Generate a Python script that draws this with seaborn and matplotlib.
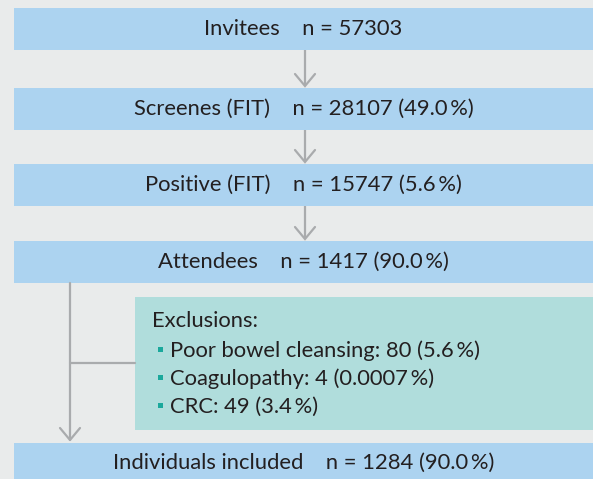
import matplotlib
matplotlib.use("Agg")
import matplotlib.pyplot as plt
import seaborn as sns
from matplotlib.patches import Rectangle

sns.set_theme(style="white")
plt.rcParams['font.family'] = ['Lato', 'DejaVu Sans']

# ---- data ----
stage_labels = ["Invitees", "Screenes (FIT)", "Positive (FIT)", "Attendees", "Individuals included"]
stage_counts = ["57303", "28107", "15747", "1417", "1284"]
stage_pcts = [None, "49.0", "5.6", "90.0", "90.0"]
exclusion_title = "Exclusions:"
exclusion_items = ["Poor bowel cleansing: 80 (5.6\u2009%)",
                   "Coagulopathy: 4 (0.0007\u2009%)",
                   "CRC: 49 (3.4\u2009%)"]

# ---- layout ----
W, H = 593, 479
BG = "#e9ebeb"
BLUE = "#acd3f0"
TEAL = "#b0dddc"
GREY = "#a9abad"
TXT = "#231f20"
BULLET = "#1aa89c"

box_tops = [8, 88, 164, 241, 443]
box_bots = [50, 130, 206, 283, 482]
x0, x1 = 14, 593
xc = (x0 + x1) / 2

fig = plt.figure(figsize=(W / 100, H / 100), dpi=100)
fig.patch.set_facecolor(BG)
ax = fig.add_axes([0, 0, 1, 1])
ax.set_xlim(0, W)
ax.set_ylim(H, 0)
ax.axis("off")
ax.set_facecolor(BG)

fs = 15.8
for i, (lab, cnt, pct) in enumerate(zip(stage_labels, stage_counts, stage_pcts)):
    t, b = box_tops[i], box_bots[i]
    ax.add_patch(Rectangle((x0, t), x1 - x0 + 5, b - t, facecolor=BLUE, edgecolor="none"))
    s = f"{lab}    n = {cnt}"
    if pct is not None:
        s += f" ({pct}\u2009%)"
    yc = (t + min(b, H)) / 2 if i < 4 else 463
    ax.text(xc, yc, s, ha="center", va="center", fontsize=fs, color=TXT)

# arrows between main boxes
def arrow(x, y0, y1):
    ax.plot([x, x], [y0, y1 - 1], color=GREY, lw=1.6, solid_capstyle="butt")
    ax.plot([x - 10, x, x + 10], [y1 - 12, y1, y1 - 12], color=GREY, lw=1.6,
            solid_joinstyle="miter")

for i in range(3):
    arrow(305, box_bots[i], box_tops[i + 1] - 2)

# exclusion branch
ax.plot([70, 70], [box_bots[3], box_tops[4] - 3], color=GREY, lw=1.6)
ax.plot([60, 70, 80], [box_tops[4] - 15, box_tops[4] - 3, box_tops[4] - 15], color=GREY, lw=1.6)
ax.plot([70, 135], [363, 363], color=GREY, lw=1.6)

ax.add_patch(Rectangle((135, 297), W - 135 + 5, 430 - 297, facecolor=TEAL, edgecolor="none"))
ax.text(152, 327, exclusion_title, ha="left", va="baseline", fontsize=fs, color=TXT)
for k, item in enumerate(exclusion_items):
    yb = 357 + 28 * k
    ax.add_patch(Rectangle((158, yb - 10), 5, 5, facecolor=BULLET, edgecolor="none"))
    ax.text(170, yb, item, ha="left", va="baseline", fontsize=fs, color=TXT)

fig.savefig("out.png", dpi=100, facecolor=BG)
